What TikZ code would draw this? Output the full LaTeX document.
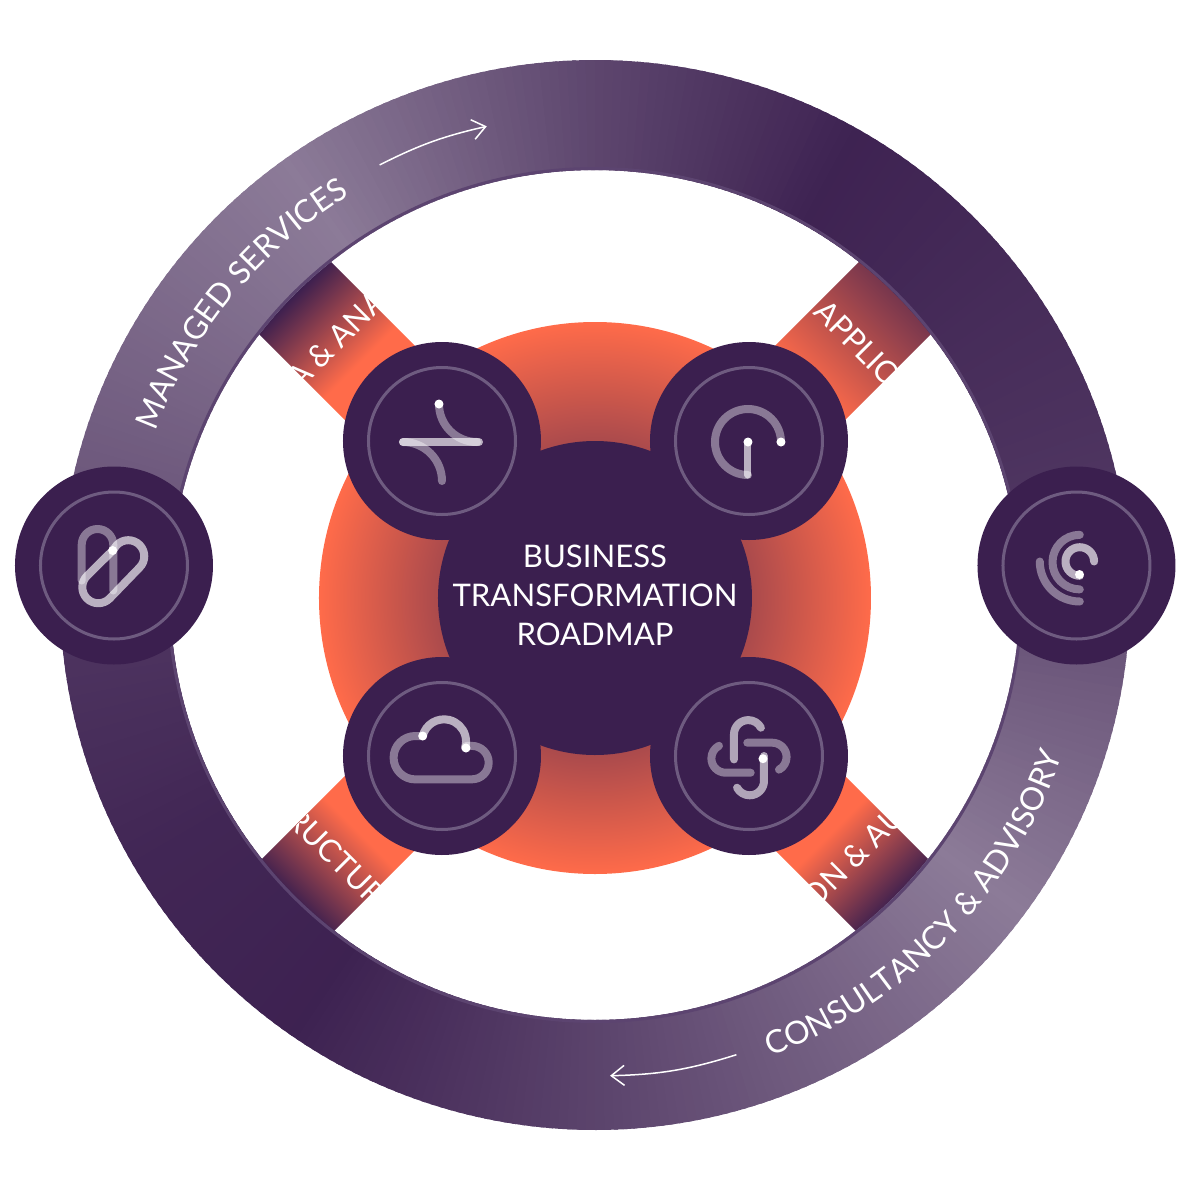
\documentclass[tikz,border=0pt]{standalone}
\usepackage{fontspec}
\setmainfont{Lato}
\usetikzlibrary{arrows.meta,decorations.text}

\definecolor{hubdark}{HTML}{3B1F4F}
\definecolor{hubedge}{HTML}{6E5B80}
\definecolor{ringlight}{HTML}{8C7B98}
\definecolor{ringedge}{HTML}{5C4470}
\definecolor{roadorange}{HTML}{FF6B4A}

% 1cm = 100 px of the page
\pgfdeclareverticalshading{bandfade}{100bp}{color(0bp)=(roadorange); color(68.6bp)=(roadorange); color(73.9bp)=(hubdark); color(100bp)=(hubdark)}
\pgfdeclareverticalshading{bandfadesoft}{100bp}{color(0bp)=(roadorange); color(66.7bp)=(roadorange); color(77bp)=(hubdark); color(100bp)=(hubdark)}

\tikzset{
  hubdisc/.style={circle, fill=hubdark, inner sep=0pt, minimum size=1.98cm},
  hubring/.style={draw=hubedge, line width=.03cm},
  glyph/.style={line width=.08cm, line cap=round, line join=round, white},
  dimglyph/.style={glyph, opacity=.4},
  brightglyph/.style={glyph, opacity=.65},
  glyphdot/.style={fill=white},
  bandtext/.style={text=white, font=\fontsize{8.8}{10}\selectfont, inner sep=0pt},
  flowarrow/.style={white, line width=.015cm, -{Straight Barb[length=.13cm,width=.2cm]}},
}

\begin{document}
\begin{tikzpicture}
  \useasboundingbox (-5.95,-5.96) rectangle (5.96,5.95);

  % Bands
  \foreach \ang/\txtrot/\fade/\nudge/\bandtxt in {45/45/bandfade/0/A \& ANA, -45/-45/bandfadesoft/.04/APPLIC, 135/-45/bandfade/0/RUCTUR, -135/45/bandfade/0/ON \& AU}{
    \begin{scope}[shift={(0,-.03)}]
      \clip[rotate=\ang] (-.51,2) rectangle (.51,4.5);
      \shade[shading=\fade, shading angle=\ang] (-4.5,-4.5) rectangle (4.5,4.5);
      \node[bandtext, rotate=\txtrot, xshift=\nudge cm] at ({\ang+90}:3.66) {\bandtxt};
    \end{scope}
  }

  % Centre
  \node (disc) [circle, inner sep=0pt, minimum size=5.52cm, inner color=hubdark, outer color=roadorange] at (0,-.03) {};
  \node (core) [circle, inner sep=0pt, minimum size=3.14cm, fill=hubdark] at (0,-.03) {};
  \node (roadmap) [align=center, text=white, font=\fontsize{8.85}{11.1}\selectfont, inner sep=0pt] at (0,0) {BUSINESS\\TRANSFORMATION\\ROADMAP};

  % Ring
  \foreach \from/\to/\mfrom/\mto in {0/20/30/20, 20/45/20/10, 45/60/10/4, 60/90/4/43, 90/125/43/100, 125/180/100/50, 180/210/25/8, 210/235/8/3, 235/270/3/40, 270/323/40/100, 323/360/100/50}{
    \pgfmathtruncatemacro\last{\to-1}
    \foreach \a in {\from,...,\last}{
      \pgfmathsetmacro\mx{\mfrom+(\a-\from)/(\to-\from)*(\mto-\mfrom)}
      \draw[line width=1.1cm, color=ringlight!\mx!hubdark] (\a:4.8) arc[start angle=\a, end angle=\a+1.5, radius=4.8];
    }
  }
  \draw[ringedge, line width=.03cm] (0,0) circle (4.265);

  % Ring labels
  \path[decorate, decoration={text along path, text align=center, text={|\fontsize{9}{10}\selectfont\color{white}|MANAGED SERVICES}}] (166:4.69) arc[start angle=166, end angle=115, radius=4.69];
  \path[decorate, decoration={text along path, text align=center, text={|\fontsize{9.1}{10}\selectfont\color{white}|CONSULTANCY {\&} ADVISORY}}] (-75:4.94) arc[start angle=-75, end angle=-13, radius=4.94];

  % Arrows
  \coordinate (manageda) at (116.6:4.81);
  \coordinate (managedb) at (103:4.81);
  \coordinate (consulta) at (-72.9:4.81);
  \coordinate (consultb) at (-88.2:4.81);
  \draw[flowarrow] (manageda) to[bend left=7] (managedb);
  \draw[flowarrow] (consulta) to[bend left=8] (consultb);

  % Icon discs
  \node (data) [hubdisc] at (-1.53,1.54) {};
  \node (apps) [hubdisc] at (1.54,1.54) {};
  \node (infra) [hubdisc] at (-1.53,-1.61) {};
  \node (integ) [hubdisc] at (1.54,-1.61) {};
  \node (managed) [hubdisc] at (-4.81,.295) {};
  \node (consult) [hubdisc] at (4.815,.295) {};
  \foreach \hub in {data,apps,infra,integ,managed,consult}
    \draw[hubring] (\hub.center) circle (.735);

  % Data
  \begin{scope}[shift={(data.center)}]
    \draw[dimglyph] (-.03,.37) arc[start angle=180, end angle=270, radius=.38];
    \draw[dimglyph] (-.39,-.01) arc[start angle=90, end angle=0, radius=.39];
    \draw[brightglyph] (-.39,-.01) -- (.37,-.01);
    \fill[glyphdot] (-.03,.37) circle (.045);
  \end{scope}

  % Applications
  \begin{scope}[shift={(apps.center)}]
    \draw[dimglyph] (.32,-.01) arc[start angle=0, end angle=270, radius=.33];
    \draw[brightglyph, line width=.07cm] (-.01,-.01) -- (-.01,-.34);
    \fill[glyphdot] (-.01,-.01) circle (.045);
    \fill[glyphdot] (.32,-.01) circle (.045);
  \end{scope}

  % Infrastructure
  \begin{scope}[shift={(infra.center)}]
    \draw[dimglyph] (-.193,.2) -- (-.267,.2) arc[start angle=90, end angle=270, radius=.217] -- (.3,-.233) arc[start angle=-90, end angle=90, radius=.167] -- (.24,.1);
    \draw[brightglyph] (-.193,.2) arc[start angle=166, end angle=-16.5, radius=.22];
    \fill[glyphdot] (-.193,.2) circle (.045);
    \fill[glyphdot] (.24,.08) circle (.045);
  \end{scope}

  % Integration
  \begin{scope}[shift={(integ.center)}]
    \foreach \ang/\op in {0/.6,-90/.4,180/.6,90/.4}
      \draw[glyph, opacity=\op, shift={(0,-.017)}, rotate=\ang] (-.15,-.017) -- (-.15,.233) arc[start angle=180, end angle=28, radius=.143];
    \fill[glyphdot] (.14,-.027) circle (.045);
  \end{scope}

  % Managed services
  \begin{scope}[shift={(managed.center)}]
    \draw[dimglyph] (-.323,-.15) -- (-.323,.207) arc[start angle=180, end angle=0, radius=.158] -- (-.007,-.25);
    \draw[brightglyph] (-.013,.15) -- (-.27,-.104) arc[start angle=135, end angle=315, radius=.16] -- (.256,-.02) arc[start angle=-45, end angle=135, radius=.16] -- cycle;
    \fill[glyphdot] (-.013,.15) circle (.045);
  \end{scope}

  % Consultancy
  \begin{scope}[shift={(consult.center)}]
    \draw[dimglyph] (.033,.307) arc[start angle=90, end angle=270, radius=.273];
    \draw[dimglyph] (-.367,.04) arc[start angle=180, end angle=270, radius=.4];
    \draw[brightglyph] (.176,.04) arc[start angle=0, end angle=270, radius=.143];
    \fill[glyphdot] (.03,-.09) circle (.045);
  \end{scope}
\end{tikzpicture}
\end{document}
